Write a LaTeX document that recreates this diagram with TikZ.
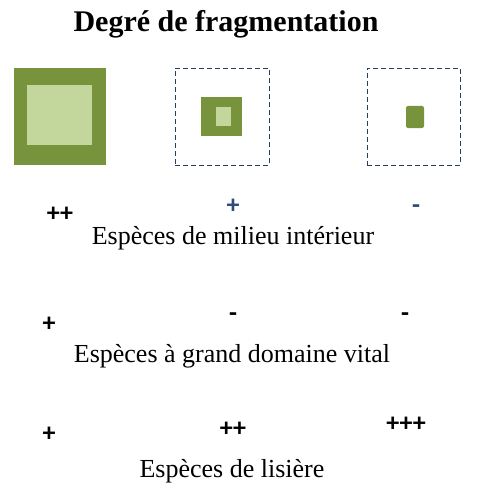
\documentclass[tikz,border=0pt]{standalone}
\usepackage{fontspec}
\setmainfont{Liberation Serif}
\newfontfamily\signfont{Carlito}
\usetikzlibrary{positioning}
\definecolor{darkgreen}{HTML}{77933C}
\definecolor{lightgreen}{HTML}{C3D69B}
\definecolor{dashblue}{HTML}{243F60}
\definecolor{signblue}{HTML}{2E4A76}
\tikzset{
  box/.style={inner sep=0pt, outer sep=0pt, draw=none},
  dashbox/.style={inner sep=0pt, outer sep=0pt, draw=dashblue, line width=0.9pt, dash pattern=on 5pt off 3pt},
  sign/.style={inner sep=0pt, text height=16pt, text depth=0pt, font=\signfont\bfseries\fontsize{26}{30}\selectfont},
  label/.style={inner sep=0pt, text height=17pt, text depth=0pt, font=\fontsize{26}{30}\selectfont},
  title/.style={inner sep=0pt, text height=20pt, text depth=0pt, font=\bfseries\fontsize{30}{34}\selectfont}
}
\begin{document}
\begin{tikzpicture}[x=1pt,y=-1pt]
\useasboundingbox (0,0) rectangle (477,492);
% title
\node[title] (title) at (226,22) {Degré de fragmentation};
% big square
\node[box, fill=darkgreen, minimum width=92pt, minimum height=97pt] (big) at (60,116.5) {};
\node[box, fill=lightgreen, minimum width=65pt, minimum height=60pt] (bigin) at (59.5,115) {};
% middle
\node[dashbox, minimum width=94pt, minimum height=97pt] (midframe) at (222,116.5) {};
\node[box, fill=darkgreen, minimum width=41pt, minimum height=39pt] (mid) at (221.5,116.5) {};
\node[box, fill=lightgreen, minimum width=15pt, minimum height=19pt] (midin) at (223.5,116.5) {};
% right
\node[dashbox, minimum width=93pt, minimum height=97pt] (rightframe) at (413.5,116.5) {};
\node[box, fill=darkgreen, rounded corners=2pt, minimum width=18pt, minimum height=22pt] (small) at (415,117) {};
% row 1
\node[sign] (r1a) at (60,213) {++};
\node[sign, text=signblue] (r1b) at (233,205) {+};
\node[sign, text=signblue] (r1c) at (416,205) {-};
\node[label] (l1) at (233,236) {Espèces de milieu intérieur};
% row 2
\node[sign] (r2a) at (49,323) {+};
\node[sign] (r2b) at (233,313) {-};
\node[sign] (r2c) at (405,313) {-};
\node[label] (l2) at (232,354) {Espèces à grand domaine vital};
% row 3
\node[sign] (r3a) at (49,433) {+};
\node[sign] (r3b) at (233,428) {++};
\node[sign] (r3c) at (406,423) {+++};
\node[label] (l3) at (232,469) {Espèces de lisière};
\end{tikzpicture}
\end{document}
